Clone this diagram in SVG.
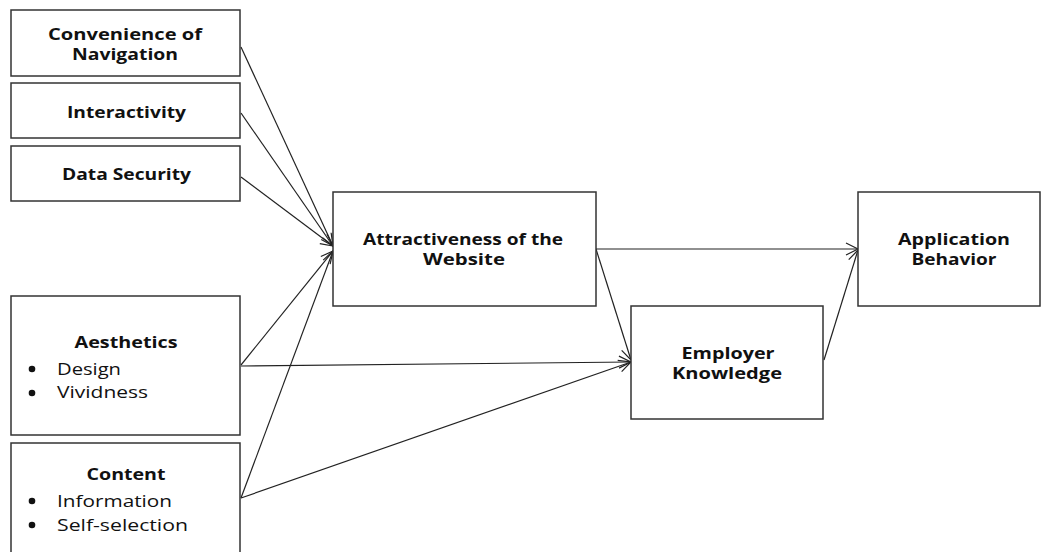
<svg xmlns="http://www.w3.org/2000/svg" width="1045" height="552" viewBox="0 0 1045 552">
<style>
.box{fill:#fff;stroke:#333;stroke-width:1.5}
.t{font-family:"Open Sans","Liberation Sans",sans-serif;font-size:16px;font-weight:700;fill:#111;text-anchor:middle}
.r{font-family:"Open Sans","Liberation Sans",sans-serif;font-size:16px;fill:#111}
.c{fill:none;stroke:#222;stroke-width:1.2}
</style>
<defs>
<marker id="ah" markerUnits="userSpaceOnUse" markerWidth="16" markerHeight="16" refX="13" refY="8" orient="auto">
<path d="M1,2 L13,8 L1,14" fill="none" stroke="#222" stroke-width="1.2"/>
</marker>
</defs>
<rect width="1045" height="552" fill="#fff"/>
<g id="connectors">
<line class="c" x1="241" y1="47" x2="333" y2="246" marker-end="url(#ah)"/>
<line class="c" x1="241" y1="113" x2="333" y2="246" marker-end="url(#ah)"/>
<line class="c" x1="241" y1="177" x2="333" y2="246" marker-end="url(#ah)"/>
<line class="c" x1="241" y1="365" x2="333" y2="251" marker-end="url(#ah)"/>
<line class="c" x1="241" y1="498" x2="333" y2="251" marker-end="url(#ah)"/>
<line class="c" x1="241" y1="366" x2="631" y2="362" marker-end="url(#ah)"/>
<line class="c" x1="241" y1="498" x2="631" y2="362" marker-end="url(#ah)"/>
<line class="c" x1="596" y1="249" x2="858" y2="249" marker-end="url(#ah)"/>
<line class="c" x1="596" y1="249" x2="631" y2="360" marker-end="url(#ah)"/>
<line class="c" x1="824" y1="360" x2="858" y2="250" marker-end="url(#ah)"/>
</g>
<g id="convenience">
<rect class="box" x="11" y="10" width="229" height="66"/>
<text class="t" x="125" y="40" textLength="154" lengthAdjust="spacingAndGlyphs">Convenience of</text>
<text class="t" x="125" y="60" textLength="106" lengthAdjust="spacingAndGlyphs">Navigation</text>
</g>
<g id="interactivity">
<rect class="box" x="11" y="83" width="229" height="55"/>
<text class="t" x="126.5" y="118" textLength="119" lengthAdjust="spacingAndGlyphs">Interactivity</text>
</g>
<g id="datasecurity">
<rect class="box" x="11" y="146" width="229" height="55"/>
<text class="t" x="126.5" y="180" textLength="129" lengthAdjust="spacingAndGlyphs">Data Security</text>
</g>
<g id="aesthetics">
<rect class="box" x="11" y="296" width="229" height="139"/>
<text class="t" x="126" y="348" textLength="103" lengthAdjust="spacingAndGlyphs">Aesthetics</text>
<circle cx="32" cy="369" r="3.3" fill="#111"/>
<text class="r" x="57" y="375" textLength="64" lengthAdjust="spacingAndGlyphs">Design</text>
<circle cx="32" cy="393" r="3.3" fill="#111"/>
<text class="r" x="57" y="398" textLength="91" lengthAdjust="spacingAndGlyphs">Vividness</text>
</g>
<g id="content">
<rect class="box" x="11" y="443" width="229" height="115"/>
<text class="t" x="126" y="480" textLength="79" lengthAdjust="spacingAndGlyphs">Content</text>
<circle cx="32" cy="501" r="3.3" fill="#111"/>
<text class="r" x="57" y="507" textLength="115" lengthAdjust="spacingAndGlyphs">Information</text>
<circle cx="32" cy="525" r="3.3" fill="#111"/>
<text class="r" x="57" y="531" textLength="131" lengthAdjust="spacingAndGlyphs">Self-selection</text>
</g>
<g id="attractiveness">
<rect class="box" x="333" y="192" width="263" height="114"/>
<text class="t" x="463" y="245" textLength="200" lengthAdjust="spacingAndGlyphs">Attractiveness of the</text>
<text class="t" x="464" y="265" textLength="82" lengthAdjust="spacingAndGlyphs">Website</text>
</g>
<g id="employer">
<rect class="box" x="631" y="306" width="192" height="113"/>
<text class="t" x="728" y="359" textLength="93" lengthAdjust="spacingAndGlyphs">Employer</text>
<text class="t" x="727" y="379" textLength="110" lengthAdjust="spacingAndGlyphs">Knowledge</text>
</g>
<g id="application">
<rect class="box" x="858" y="192" width="182" height="114"/>
<text class="t" x="954" y="245" textLength="112" lengthAdjust="spacingAndGlyphs">Application</text>
<text class="t" x="954" y="265" textLength="85" lengthAdjust="spacingAndGlyphs">Behavior</text>
</g>
</svg>
